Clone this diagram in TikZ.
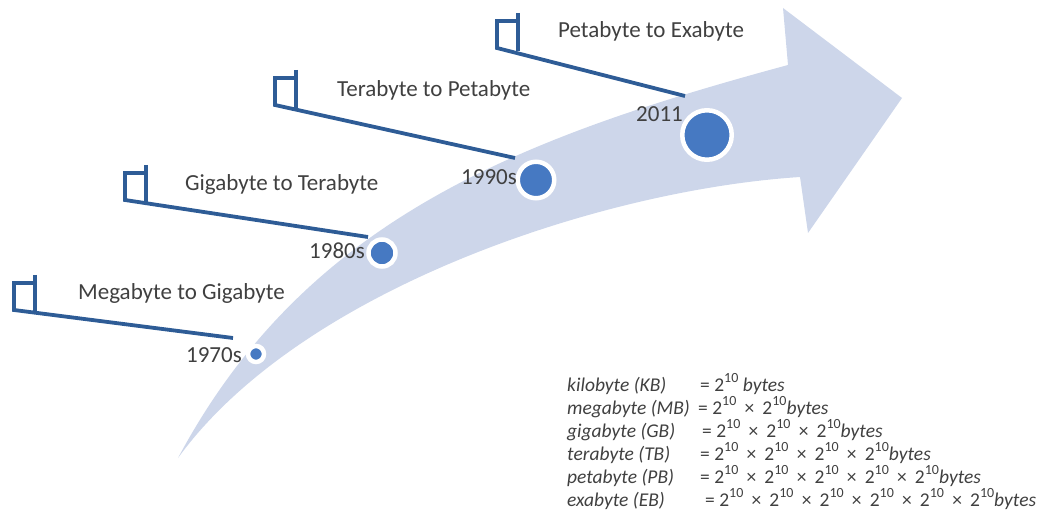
\documentclass[tikz,border=0pt]{standalone}
\usepackage{fontspec}
\setmainfont{Carlito}
\usetikzlibrary{calc}
\definecolor{bandblue}{HTML}{CDD6EA}
\definecolor{dotblue}{HTML}{4679C2}
\definecolor{flagblue}{HTML}{2E5C96}
\definecolor{txtgray}{HTML}{404040}
\newcommand{\twoten}{2\raisebox{0.42em}{\fontsize{14}{14}\selectfont 10}}
\newcommand{\tms}{\hspace{0.42em}×\hspace{0.42em}}
\tikzset{
    flagline/.style={draw=flagblue, line width=3.8pt},
    dot/.style={circle, fill=dotblue, draw=white, line width=4.5pt, inner sep=0pt},
    stage/.style={font=\fontsize{23}{27}\selectfont, text=txtgray, inner sep=0pt},
    legend/.style={font=\fontsize{19.5}{22}\selectfont\itshape, text=txtgray, inner sep=0pt}
}
\begin{document}
\begin{tikzpicture}[x=1pt, y=-1pt]
    \useasboundingbox (0,0) rectangle (1038,510);
    % curved band with its head
    \fill[bandblue] (178,458) .. controls (305,220) and (518,138) .. (788,65)
        -- (783,8) -- (902,98) -- (808,233) -- (800,177)
        .. controls (600,190) and (300,290) .. (178,458) -- cycle;
    % years on the band
    \foreach \n/\x/\y/\d/\yx/\yb/\lab in {1/256/354/16/242/362/1970s, 2/382/253/27/365/259/1980s,
                                          3/536/180/36.5/517/185/1990s, 4/707/135/49.5/683/122/2011} {
        \node[dot, minimum size=\d pt] (d\n) at (\x,\y) {};
        \node[stage, anchor=base east] (y\n) at (\yx,\yb) {\lab};
    }
    % flags and their leaders
    \foreach \n/\fl/\fb/\ex/\ey/\tx/\ty/\lab in {1/14/310/233/338/78/300/{Megabyte to Gigabyte},
                                                2/125/200/368/237/185/191/{Gigabyte to Terabyte},
                                                3/275/105/515/158/337/97/{Terabyte to Petabyte},
                                                4/497/48/685/96/558/38/{Petabyte to Exabyte}} {
        \coordinate (f\n) at (\fl,\fb);
        \coordinate (e\n) at (\ex,\ey);
        \draw[flagline] (e\n) -- (f\n) -- ++(0,-27) -- ++(21,0);
        \draw[flagline] ($(f\n)+(21,-35)$) -- ($(f\n)+(21,3)$);
        \node[stage, anchor=base west] (t\n) at (\tx,\ty) {\lab};
    }
    % units table
    \foreach \i/\lab/\rx/\val in {0/{kilobyte (KB)}/700/{\twoten{} \textit{bytes}},
                                  1/{megabyte (MB)}/698/{\twoten\tms\twoten\textit{bytes}},
                                  2/{gigabyte (GB)}/702/{\twoten\tms\twoten\tms\twoten\textit{bytes}},
                                  3/{terabyte (TB)}/700/{\twoten\tms\twoten\tms\twoten\tms\twoten\textit{bytes}},
                                  4/{petabyte (PB)}/700/{\twoten\tms\twoten\tms\twoten\tms\twoten\tms\twoten\textit{bytes}},
                                  5/{exabyte (EB)}/705/{\twoten\tms\twoten\tms\twoten\tms\twoten\tms\twoten\tms\twoten\textit{bytes}}} {
        \node[legend, anchor=base west] (u\i) at (567,391+23*\i) {\lab};
        \node[legend, anchor=base west, font=\fontsize{19.5}{22}\selectfont\upshape] (v\i) at (\rx,391+23*\i) {= \val};
    }
\end{tikzpicture}
\end{document}
